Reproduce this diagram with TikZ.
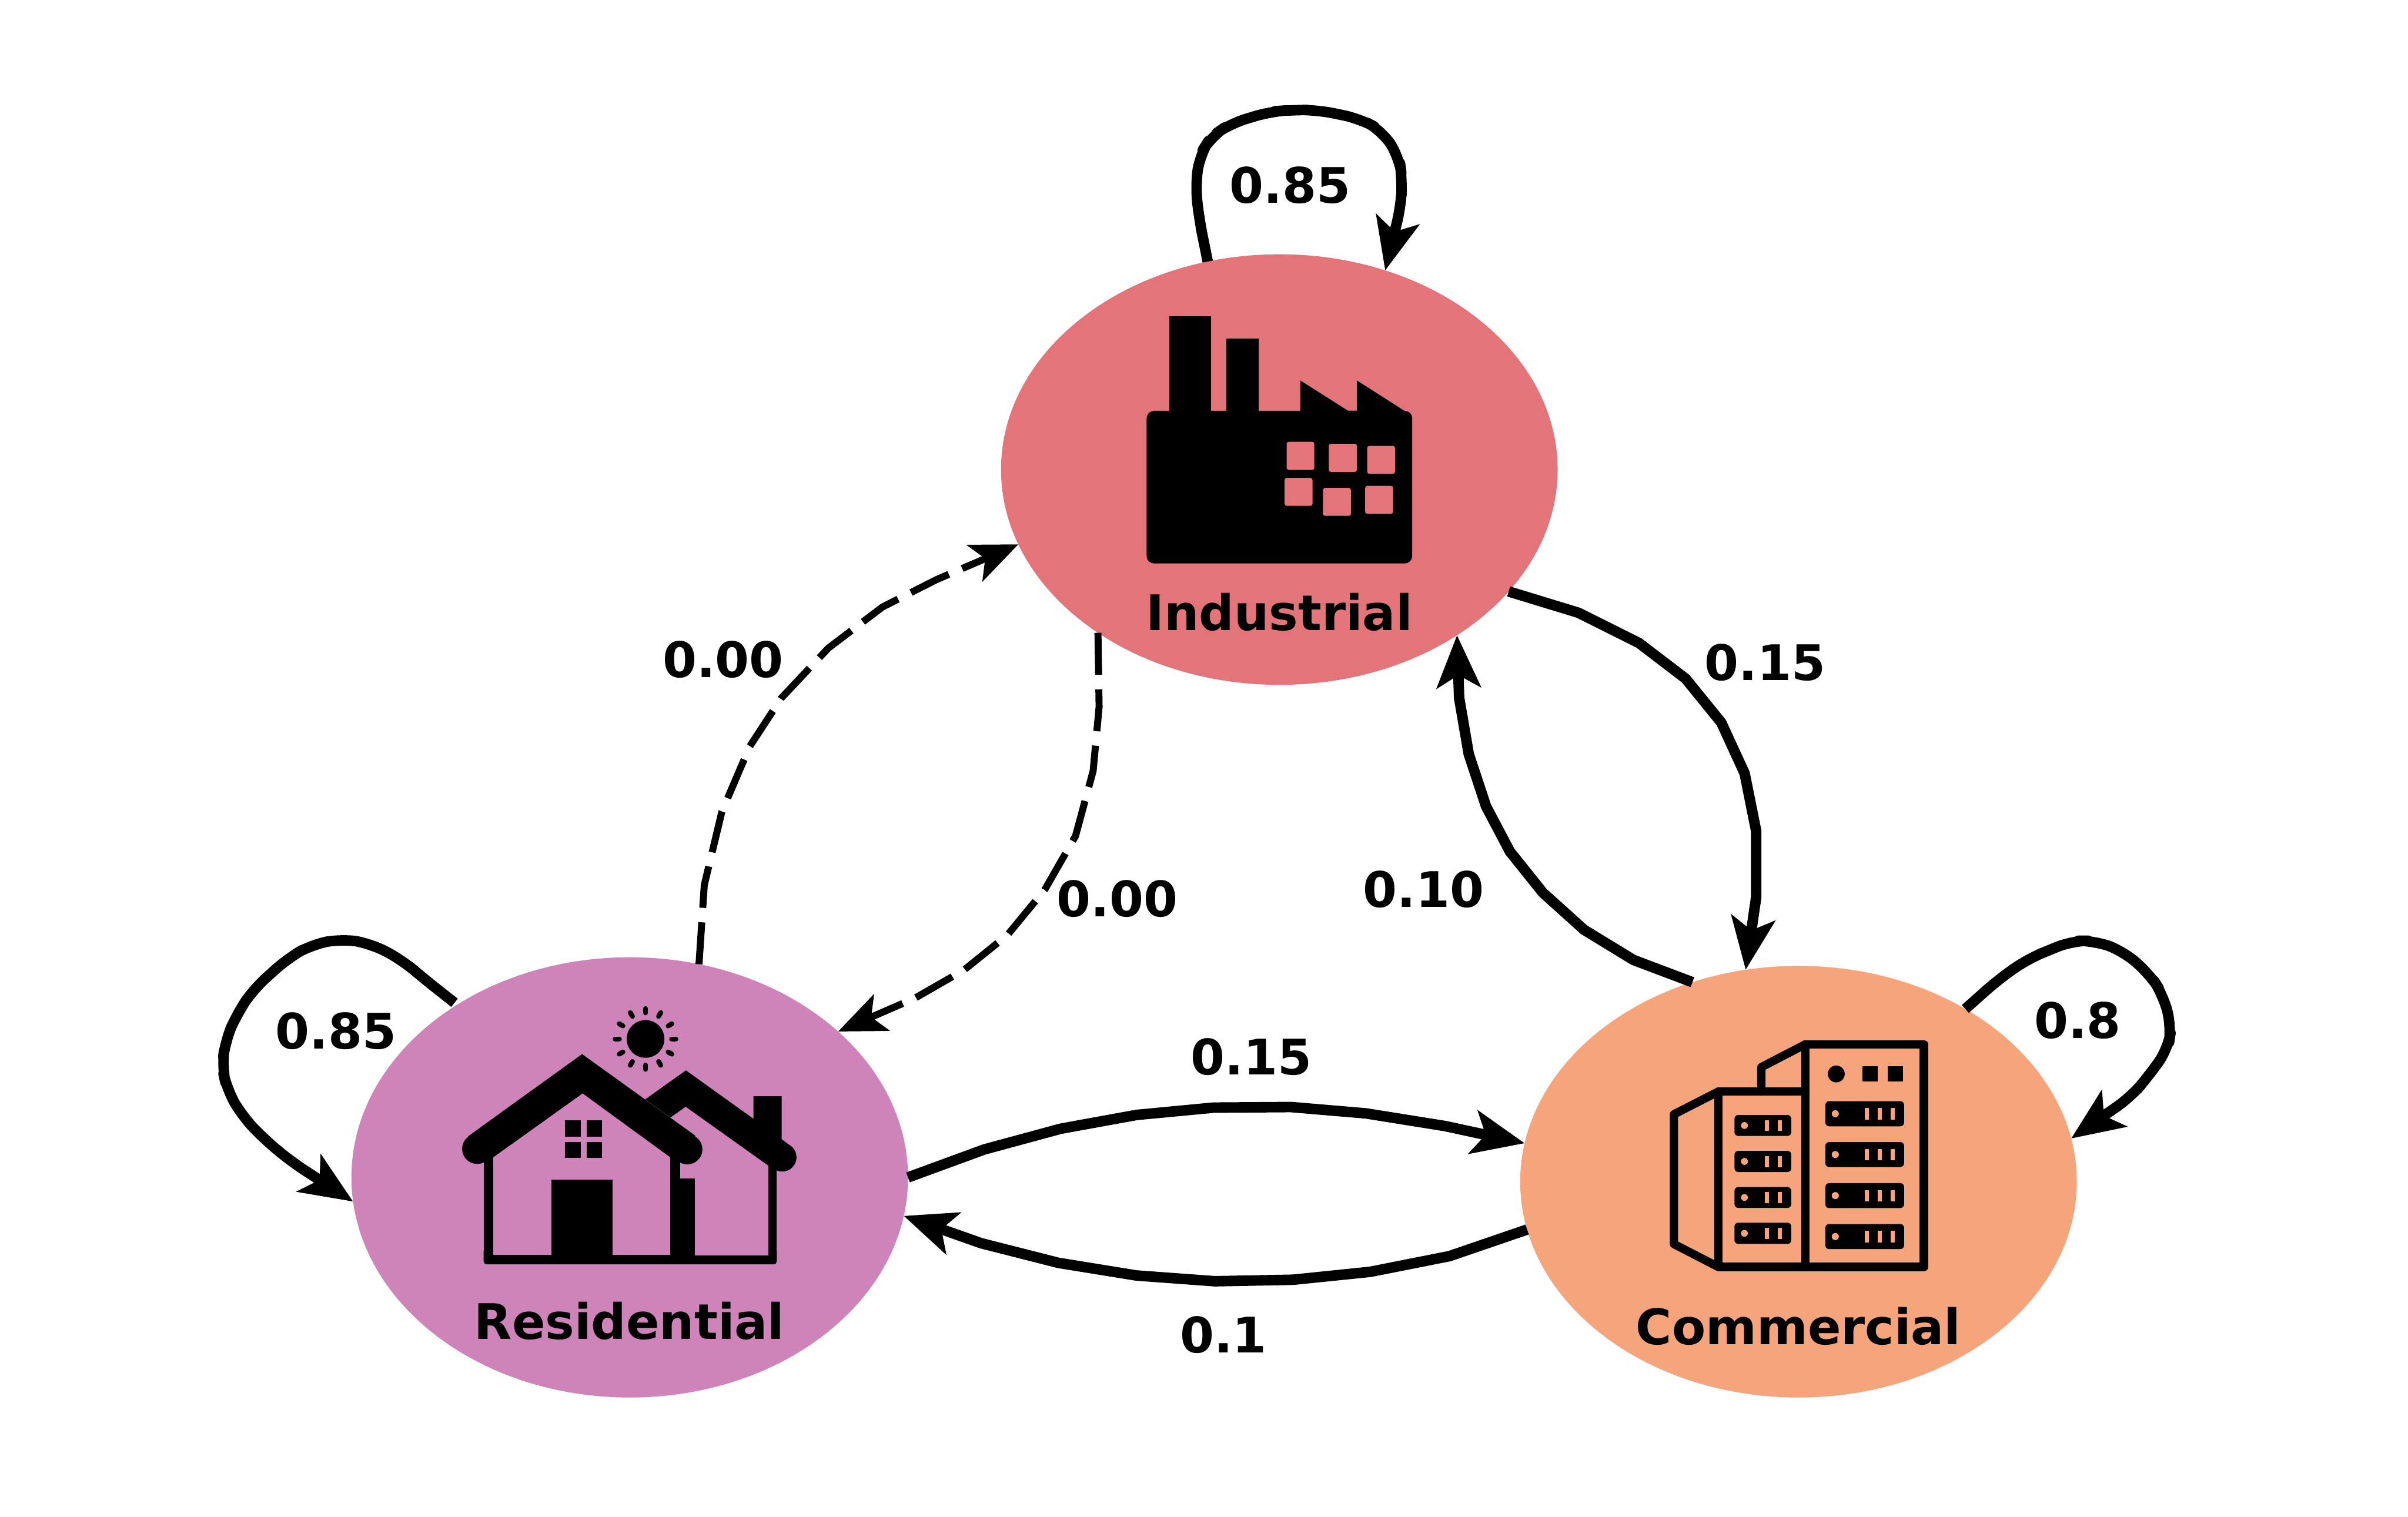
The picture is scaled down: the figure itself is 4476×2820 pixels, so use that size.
\documentclass[tikz,border=0pt]{standalone}
\usepackage{fontspec}
\setmainfont{DejaVu Sans}
\usetikzlibrary{shapes.geometric,arrows.meta}
\definecolor{indcol}{HTML}{E2747A}
\definecolor{rescol}{HTML}{CE84B9}
\definecolor{comcol}{HTML}{F5A47C}
\tikzset{
  statenode/.style={ellipse,minimum width=10.34cm,inner sep=0pt,outer sep=0pt,draw=none},
  lbl/.style={inner sep=0pt,outer sep=0pt,font=\fontsize{25.9pt}{30pt}\selectfont\bfseries},
  solidflow/.style={line width=0.195cm,line join=round,-{Stealth[length=0.97cm,width=0.81cm,inset=0.23cm]}},
  loopflow/.style={solidflow,rounded corners=0.3cm},
  zeroflow/.style={line width=0.13cm,line join=round,dash pattern=on 0.78cm off 0.27cm,-{Stealth[length=0.88cm,width=0.73cm,inset=0.21cm]}},
  comline/.style={line width=0.155cm,line join=round,line cap=round},
}
\begin{document}
\begin{tikzpicture}[x=0.01cm,y=-0.01cm]
\useasboundingbox (0,0) rectangle (4476,2820);
% states
\node[statenode,fill=indcol,minimum height=8cm] (ind) at (2378,873) {};
\node[statenode,fill=rescol,minimum height=8.18cm] (res) at (1170.5,2189) {};
\node[statenode,fill=comcol,minimum height=8.02cm] (com) at (3343,2197) {};
% factory icon
\fill[black,rounded corners=0.14cm] (2131.3,763.8) rectangle (2625,1047.6);
\fill[black] (2174,587.9) rectangle (2251.5,790);
\fill[black] (2280,629.9) rectangle (2339.4,790);
\fill[black] (2417,790) -- (2417,707.4) -- (2506,763.8) -- (2522.2,763.8) -- (2522.2,707.4) -- (2610.5,763.8) -- (2610.5,790) -- cycle;
\foreach \xa/\ya/\xb/\yb in {2391.6/821.3/2443/873.7,2470/825.1/2522.2/877.5,2541.3/828.9/2593.1/880.9,2387.9/888.5/2439.7/940.5,2459.2/907/2511/959.1,2537.6/903.3/2589.4/955.3}
  \fill[indcol,rounded corners=0.04cm] (\xa,\ya) rectangle (\xb,\yb);
% house icon
\fill[black] (870,2112.7) -- (1082,1959.8) -- (1292.3,2111.3) -- (1263.8,2162) -- (1245.9,2151.6) -- (1083,2032.8) -- (916.9,2151.6) -- (899,2161) -- cycle;
\fill[black] (887,2136) circle[radius=0.28cm];
\fill[black] (1277.6,2136.8) circle[radius=0.28cm];
\fill[black] (1199.5,2043.9) -- (1275,1990) -- (1400.4,2080) -- (1400.4,2038) -- (1453,2038) -- (1453,2118.2) -- (1471.8,2132) -- (1444,2175.7) -- (1428,2167) -- (1274.5,2057.6) -- (1246.3,2077.6) -- cycle;
\fill[black] (1454,2151.6) circle[radius=0.265cm];
\fill[black] (899,2150) rectangle (916.9,2340);
\fill[black] (1428,2160) rectangle (1444,2340);
\fill[black] (1245.9,2150) rectangle (1263.8,2340);
\fill[black] (1263,2191.2) rectangle (1291.4,2340);
\fill[black,rounded corners=0.06cm] (899,2320) rectangle (1444,2350.7);
\fill[black] (1025.4,2193.6) rectangle (1138.8,2340);
\foreach \xa/\xb in {1050.4/1079.4,1090.1/1119.1}
  \foreach \ya/\yb in {2083.1/2113.1,2123/2152.7}
    \fill[black] (\xa,\ya) rectangle (\xb,\yb);
\fill[rescol] (916.9,2160) rectangle (1025.4,2332.8);
\fill[rescol] (1138.8,2160) rectangle (1245.9,2332.8);
\fill[rescol] (1291.4,2195) rectangle (1428,2333.8);
\fill[black] (1199.9,1931.6) circle[radius=0.35cm];
\foreach \a in {0,30,...,330}
  \draw[black,line width=0.09cm,line cap=round] ([shift={(\a:0.485cm)}]1199.9,1931.6) -- ([shift={(\a:0.565cm)}]1199.9,1931.6);
% office icon
\draw[black,comline] (3356,1941.5) rectangle (3576,2355.5);
\draw[black,comline] (3356,2029.5) -- (3194,2029.5) -- (3194,2355.5) -- (3356,2355.5);
\draw[black,comline] (3194,2029.5) -- (3111.5,2071.7) -- (3111.5,2313) -- (3194,2355.5);
\draw[black,comline] (3356,1941.5) -- (3274,1984) -- (3274,2029.5);
\fill[black] (3413.2,1996.7) circle[radius=0.157cm];
\fill[black] (3461.4,1982) rectangle (3490,2011);
\fill[black] (3509,1982) rectangle (3537.5,2011);
\foreach \ya/\yb in {2073/2112,2139.7/2179,2207/2245.7,2273.3/2312.7}{
  \fill[black,rounded corners=0.07cm] (3224,\ya) rectangle (3329.6,\yb);
  \fill[comcol] (3242.5,{(\ya+\yb)/2}) circle[radius=0.064cm];
  \fill[comcol] (3280.4,\ya+9.3) rectangle (3288.2,\yb-9.3);
  \fill[comcol] (3304,\ya+9.3) rectangle (3312.5,\yb-9.3);
}
\foreach \ya/\yb in {2047.3/2094,2123.3/2169.7,2199.7/2246,2275.7/2322.3}{
  \fill[black,rounded corners=0.07cm] (3392.9,\ya) rectangle (3539.3,\yb);
  \fill[comcol] (3411.4,{(\ya+\yb)/2}) circle[radius=0.066cm];
  \fill[comcol] (3466,\ya+12.7) rectangle (3474,\yb-12.7);
  \fill[comcol] (3490,\ya+12.7) rectangle (3497.9,\yb-12.7);
  \fill[comcol] (3514,\ya+12.7) rectangle (3522.5,\yb-12.7);
}
% self loops
\draw[loopflow] (ind.109.2) -- (2238.3,452.7) -- (2230,413.3) -- (2222,346.7) -- (2230.3,287.3) -- (2251.7,254) -- (2286.7,230) -- (2361.7,207.3) -- (2400,204.7) -- (2448.3,204.3) -- (2527.7,220.7) -- (2568.3,242.7) -- (2600.7,291.7) -- (2606.3,333.3) -- (2604,383.3) -- (ind.62.5);
\draw[loopflow,shorten <=0.06cm] (res.135.9) -- (784.3,1816.5) -- (746.7,1784.4) -- (688.5,1754) -- (635.1,1745.5) -- (579.4,1756.2) -- (535.3,1781.4) -- (471.2,1839.1) -- (440.2,1885.7) -- (418.9,1934.9) -- (412.7,1983) -- (421.7,2025.6) -- (451.3,2076.3) -- (492.2,2118.8) -- (542.9,2160.8) -- (res.185);
\draw[loopflow] (com.46.6) -- (3712.7,1822.7) -- (3768.3,1783.3) -- (3851.7,1749) -- (3893.3,1749) -- (3946.7,1768.3) -- (3996,1811.7) -- (4020,1848.3) -- (4036.3,1908.3) -- (4030,1950) -- (3991.7,2003.3) -- (3960,2040) -- (com.9.4);
% flows between states
\draw[solidflow] (ind.-28.3) -- (2934.2,1139.3) -- (3046.4,1195.4) -- (3133.2,1261.7) -- (3199.5,1343.4) -- (3242.9,1437.8) -- (3264.3,1544.9) -- (3264.3,1668.4) -- (com.104.3);
\draw[solidflow] (com.118.9) -- (3036.2,1784.7) -- (2944.4,1728.6) -- (2867.9,1659.7) -- (2806.6,1583.2) -- (2762.2,1499) -- (2730.1,1402) -- (2712.2,1297.4) -- (ind.-43.1);
\draw[solidflow] (res.0) -- (1829.4,2137.1) -- (1971.3,2098.6) -- (2112.4,2072.9) -- (2255.9,2059.3) -- (2399.4,2058.2) -- (2538.9,2070) -- (2686.3,2093.6) -- (com.172.7);
\draw[solidflow] (com.190.9) -- (2694.3,2335.4) -- (2546.8,2364.6) -- (2403.3,2379.3) -- (2258.3,2382.1) -- (2112.4,2371.4) -- (1967.3,2347.9) -- (1823.8,2311.4) -- (res.-8.05);
\draw[zeroflow] (res.72.4) -- (1309.1,1645.5) -- (1341.8,1509.1) -- (1393.5,1387.9) -- (1452,1298.2) -- (1539.9,1204.8) -- (1640.4,1128.5) -- (1740.8,1077.6) -- (ind.196.5);
\draw[zeroflow] (ind.-138.3) -- (2043,1313.9) -- (2031.9,1433.3) -- (1999.1,1554.5) -- (1941.7,1654.5) -- (1872.8,1738.2) -- (1792.5,1803) -- (1700.6,1855.8) -- (res.35.5);
% labels
\node[lbl] (nind) at (2378,1138) {Industrial};
\node[lbl] (nres) at (1170,2456) {Residential};
\node[lbl] (ncom) at (3343,2466) {Commercial};
\node[lbl] (l1) at (2398.3,344.7) {0.85};
\node[lbl] (l2) at (624.2,1916.8) {0.85};
\node[lbl] (l3) at (3861.7,1896.7) {0.8};
\node[lbl] (l4) at (3281,1232) {0.15};
\node[lbl] (l5) at (2646,1654) {0.10};
\node[lbl] (l6) at (1344,1226) {0.00};
\node[lbl] (l7) at (2077,1670.5) {0.00};
\node[lbl] (l8) at (2326,1965) {0.15};
\node[lbl] (l9) at (2274,2482) {0.1};
\end{tikzpicture}
\end{document}
